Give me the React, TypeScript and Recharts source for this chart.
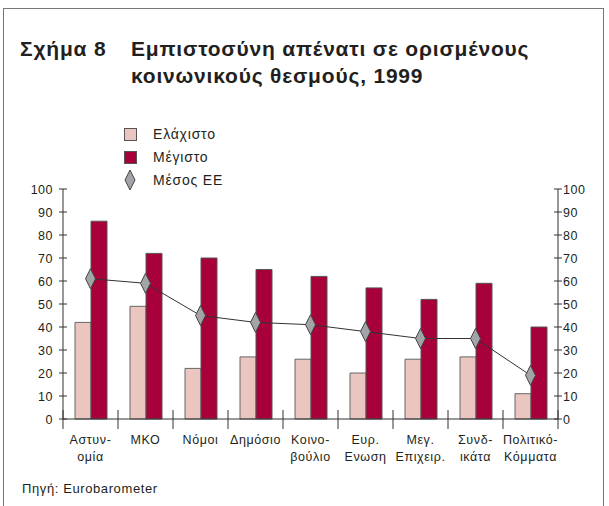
import React from "react";
import { Bar, ComposedChart, Line, XAxis, YAxis } from "recharts";

const categories = [
  "Αστυν-\nομία",
  "ΜΚΟ",
  "Νόμοι",
  "Δημόσιο",
  "Κοινο-\nβούλιο",
  "Ευρ.\nΕνωση",
  "Μεγ.\nΕπιχειρ.",
  "Συνδ-\nικάτα",
  "Πολιτικό-\nΚόμματα",
];
const minimum = [42, 49, 22, 27, 26, 20, 26, 27, 11];
const maximum = [86, 72, 70, 65, 62, 57, 52, 59, 40];
const euAverage = [61, 59, 45, 42, 41, 38, 35, 35, 19];
const yTicks = [0, 10, 20, 30, 40, 50, 60, 70, 80, 90, 100];

const seriesNames = ["Ελάχιστο", "Μέγιστο", "Μέσος ΕΕ"];

const LIGHT = "#ebc6c0";
const DARK = "#a8003a";
const GREY = "#a3a4a8";
const INK = "#231f20";
const FONT = "'Liberation Sans', Arial, sans-serif";

const rows = categories.map((name, i) => ({
  name,
  min: minimum[i],
  max: maximum[i],
  avg: euAverage[i],
}));

function LeftTick(props: any) {
  const { x, y, payload } = props;
  return (
    <g>
      <line x1={x - 4} x2={x + 4} y1={y} y2={y} stroke="#333" />
      <text x={x - 10} y={y + 4.5} textAnchor="end" fontSize={12.5} letterSpacing={0.5} fill={INK} fontFamily={FONT}>
        {payload.value}
      </text>
    </g>
  );
}

function RightTick(props: any) {
  const { x, y, payload } = props;
  return (
    <g>
      <line x1={x - 4} x2={x + 4} y1={y} y2={y} stroke="#333" />
      <text x={x + 5} y={y + 4.5} textAnchor="start" fontSize={12.5} letterSpacing={0.5} fill={INK} fontFamily={FONT}>
        {payload.value}
      </text>
    </g>
  );
}

function CategoryTick(props: any) {
  const { x, y, payload, index, width, visibleTicksCount } = props;
  const half = payload.offset || width / visibleTicksCount / 2;
  const lines = String(payload.value).split("\n");
  return (
    <g>
      <line x1={x - half} x2={x - half} y1={y - 9} y2={y + 10} stroke="#333" />
      {index === visibleTicksCount - 1 && (
        <line x1={x + half} x2={x + half} y1={y - 9} y2={y + 10} stroke="#333" />
      )}
      {lines.map((t, k) => (
        <text
          key={k}
          x={x}
          y={y + 25 + k * 17}
          textAnchor="middle"
          fontSize={12.5}
          letterSpacing={0.6}
          fill={INK}
          fontFamily={FONT}
        >
          {t}
        </text>
      ))}
    </g>
  );
}

function Diamond(props: any) {
  const { cx, cy } = props;
  if (cx == null || cy == null) return null;
  return (
    <polygon
      points={`${cx},${cy - 10} ${cx + 5},${cy} ${cx},${cy + 10} ${cx - 5},${cy}`}
      fill={GREY}
      stroke="#444"
      strokeWidth={1}
    />
  );
}

function LegendMark({ index }: { index: number }) {
  if (index === 2) {
    return (
      <svg width={14} height={22} style={{ display: "block" }}>
        <polygon points="7,1 12,11 7,21 2,11" fill={GREY} stroke="#444" />
      </svg>
    );
  }
  return (
    <div
      style={{
        width: 11,
        height: 11,
        background: index === 0 ? LIGHT : DARK,
        border: "1px solid #555",
      }}
    />
  );
}

export default function App() {
  return (
    <div
      style={{
        position: "absolute",
        left: 0,
        top: 0,
        width: 609,
        height: 506,
        background: "#fff",
        overflow: "hidden",
        fontFamily: FONT,
        color: INK,
      }}
    >
      <div
        style={{
          position: "absolute",
          left: 3,
          top: 8,
          width: 599,
          height: 520,
          borderLeft: "1px solid #777",
          borderTop: "1px solid #777",
          borderRight: "1px solid #777",
        }}
      />
      <div
        style={{
          position: "absolute",
          left: 20,
          top: 35,
          fontSize: 21,
          fontWeight: 700,
          lineHeight: "27px",
          letterSpacing: 0.8,
        }}
      >
        Σχήμα 8
      </div>
      <div
        style={{
          position: "absolute",
          left: 131,
          top: 35,
          fontSize: 21,
          fontWeight: 700,
          lineHeight: "27px",
          letterSpacing: 0.8,
          whiteSpace: "nowrap",
        }}
      >
        Εμπιστοσύνη απένατι σε ορισμένους
        <br />
        κοινωνικούς θεσμούς, 1999
      </div>

      {seriesNames.map((name, i) => (
        <div
          key={name}
          style={{
            position: "absolute",
            left: 118,
            top: 123 + i * 23,
            height: 22,
            display: "flex",
            alignItems: "center",
            fontSize: 14,
            letterSpacing: 0.8,
          }}
        >
          <div style={{ width: 24, marginRight: 11, display: "flex", justifyContent: "center" }}>
            <LegendMark index={i} />
          </div>
          <span>{name}</span>
        </div>
      ))}

      <div style={{ position: "absolute", left: 22, top: 481, fontSize: 13, letterSpacing: 0.6 }}>
        Πηγή: Eurobarometer
      </div>

      <div style={{ position: "absolute", left: 0, top: 0 }}>
        <ComposedChart
          width={609}
          height={506}
          data={rows}
          margin={{ top: 189, right: 11, bottom: 27, left: 33 }}
          barGap={0}
          barSize={16}
        >
          <XAxis
            dataKey="name"
            interval={0}
            height={60}
            tickSize={0}
            tickMargin={0}
            tickLine={false}
            axisLine={{ stroke: "#333" }}
            tick={<CategoryTick />}
          />
          <YAxis
            yAxisId="l"
            domain={[0, 100]}
            ticks={yTicks}
            interval={0}
            width={30}
            tickSize={0}
            tickMargin={0}
            tickLine={false}
            axisLine={{ stroke: "#333" }}
            tick={<LeftTick />}
          />
          <YAxis
            yAxisId="r"
            orientation="right"
            domain={[0, 100]}
            ticks={yTicks}
            interval={0}
            width={40}
            tickSize={0}
            tickMargin={0}
            tickLine={false}
            axisLine={{ stroke: "#333" }}
            tick={<RightTick />}
          />
          <Bar yAxisId="l" dataKey="min" name={seriesNames[0]} fill={LIGHT} stroke="#666" strokeWidth={1} isAnimationActive={false} />
          <Bar yAxisId="l" dataKey="max" name={seriesNames[1]} fill={DARK} stroke="#555" strokeWidth={1} isAnimationActive={false} />
          <Line
            yAxisId="r"
            dataKey="avg"
            name={seriesNames[2]}
            type="linear"
            stroke="#333"
            strokeWidth={1}
            dot={<Diamond />}
            activeDot={false}
            isAnimationActive={false}
          />
        </ComposedChart>
      </div>
    </div>
  );
}
